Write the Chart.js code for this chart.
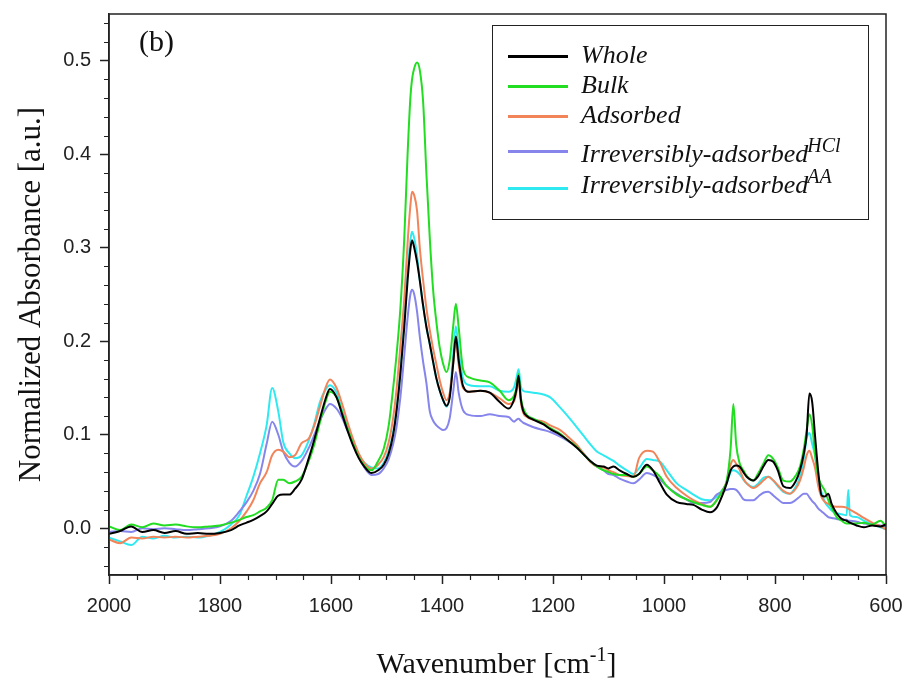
<!DOCTYPE html>
<html>
<head>
<meta charset="utf-8">
<script src="https://cdn.jsdelivr.net/npm/chart.js@4/dist/chart.umd.min.js"></script>
<style>
  html, body { margin: 0; padding: 0; background: #fff; }
  #wrap { position: relative; width: 905px; height: 684px; }
  canvas { position: absolute; left: 0; top: 0; }
  .serif { font-family: "Liberation Serif", "Times New Roman", serif; color: #111; position: absolute; white-space: nowrap; }
  #panel { left: 139px; top: 26px; font-size: 30px; line-height: 30px; }
  #xtitle { left: 0; width: 993px; text-align: center; top: 648px; font-size: 30px; line-height: 30px; }
  #xtitle .sup { font-size: 20px; position: relative; top: -12px; }
  #legend { position: absolute; left: 492px; top: 25px; width: 375px; height: 193px; border: 1.5px solid #222; }
  #legend .swatch { position: absolute; left: 15px; width: 60px; height: 3px; }
  #legend .lab { position: absolute; left: 88px; font-size: 26px; line-height: 26px; font-style: italic; }
  #legend .lab .sup { font-size: 20px; position: relative; top: -10px; margin-left: -1px; }
</style>
</head>
<body>
<div id="wrap">
  <canvas id="chart" width="905" height="684"></canvas>
  <div id="panel" class="serif">(b)</div>
  <div id="xtitle" class="serif">Wavenumber [cm<span class="sup">-1</span>]</div>
  <div id="legend"></div>
</div>
<script>
// Wavenumber grid [cm-1]
const wavenumbers = [
  2000,1980,1960,1940,1920,1900,1880,1860,1840,1820,
  1800,1780,1765,1752,1740,1728,1716,1706,1695,1686,
  1675,1665,1653,1640,1630,1620,1610,1602,1590,1580,
  1570,1560,1550,1540,1527,1515,1505,1496,1488,1482,
  1475,1468,1462,1457,1454,1450,1445,1440,1434,1428,
  1422,1416,1410,1404,1398,1392,1386,1380,1375,1370,
  1362,1350,1331,1314,1296,1280,1270,1266,1262,1258,
  1254,1247,1235,1217,1205,1187,1175,1157,1145,1133,
  1121,1109,1100,1091,1080,1067,1055,1045,1031,1020,
  1007,995,977,960,947,932,917,905,895,887,
  880,875,870,864,857,851,839,830,821,812,
  803,795,785,773,763,755,748,743,738,733,
  728,722,716,710,704,698,689,680,671,668,
  665,653,640,625,610,600
];

const whole = [
  -0.006,-0.003,0.002,-0.004,-0.002,-0.005,-0.003,-0.006,-0.005,-0.006,
  -0.005,-0.002,0.003,0.006,0.009,0.013,0.018,0.026,0.035,0.036,
  0.036,0.042,0.052,0.075,0.095,0.117,0.138,0.149,0.140,0.122,
  0.104,0.088,0.075,0.066,0.059,0.062,0.068,0.080,0.100,0.125,
  0.165,0.215,0.265,0.298,0.308,0.300,0.285,0.265,0.238,0.215,
  0.197,0.178,0.160,0.147,0.137,0.131,0.140,0.175,0.205,0.180,
  0.152,0.146,0.147,0.145,0.135,0.128,0.138,0.148,0.163,0.138,
  0.126,0.120,0.116,0.111,0.106,0.100,0.095,0.086,0.079,0.072,
  0.067,0.066,0.064,0.066,0.062,0.058,0.055,0.058,0.068,0.062,
  0.048,0.036,0.028,0.026,0.025,0.020,0.017,0.022,0.035,0.048,
  0.062,0.066,0.067,0.066,0.060,0.055,0.051,0.056,0.066,0.073,
  0.071,0.062,0.045,0.043,0.050,0.062,0.080,0.100,0.144,0.135,
  0.100,0.060,0.035,0.034,0.037,0.026,0.016,0.010,0.008,0.007,
  0.006,0.003,0.001,0.003,0.002,0.004
];

const bulk = [
  0.002,-0.002,0.004,0.001,0.005,0.003,0.004,0.002,0.001,0.002,
  0.003,0.006,0.009,0.012,0.014,0.018,0.022,0.030,0.052,0.052,
  0.048,0.050,0.055,0.072,0.090,0.113,0.135,0.146,0.140,0.124,
  0.106,0.090,0.076,0.067,0.062,0.072,0.085,0.110,0.150,0.185,
  0.235,0.310,0.400,0.460,0.480,0.492,0.498,0.490,0.456,0.378,
  0.310,0.255,0.220,0.193,0.176,0.167,0.180,0.215,0.240,0.215,
  0.170,0.161,0.158,0.156,0.147,0.137,0.142,0.150,0.165,0.140,
  0.129,0.121,0.117,0.112,0.107,0.101,0.095,0.087,0.079,0.072,
  0.066,0.062,0.060,0.058,0.057,0.057,0.055,0.058,0.066,0.062,
  0.055,0.045,0.036,0.031,0.028,0.025,0.023,0.030,0.040,0.051,
  0.085,0.133,0.090,0.070,0.062,0.056,0.051,0.059,0.069,0.078,
  0.074,0.065,0.051,0.050,0.056,0.066,0.085,0.105,0.122,0.110,
  0.080,0.055,0.046,0.040,0.030,0.022,0.012,0.008,0.005,0.005,
  0.005,0.005,0.006,0.004,0.008,0.002
];

const adsorbed = [
  -0.012,-0.016,-0.010,-0.011,-0.009,-0.010,-0.009,-0.010,-0.009,-0.008,
  -0.006,0.000,0.008,0.018,0.030,0.048,0.060,0.078,0.084,0.082,
  0.076,0.078,0.091,0.096,0.110,0.130,0.150,0.159,0.150,0.133,
  0.113,0.095,0.080,0.070,0.064,0.068,0.076,0.092,0.118,0.148,
  0.195,0.245,0.305,0.345,0.360,0.356,0.340,0.300,0.265,0.235,
  0.212,0.192,0.175,0.158,0.145,0.137,0.145,0.175,0.200,0.175,
  0.150,0.146,0.147,0.145,0.139,0.133,0.136,0.145,0.158,0.135,
  0.124,0.119,0.116,0.114,0.110,0.105,0.099,0.089,0.080,0.071,
  0.066,0.065,0.062,0.060,0.057,0.056,0.055,0.075,0.083,0.082,
  0.070,0.055,0.043,0.035,0.030,0.026,0.023,0.030,0.040,0.050,
  0.068,0.073,0.069,0.063,0.053,0.048,0.043,0.046,0.051,0.055,
  0.051,0.046,0.040,0.037,0.042,0.051,0.065,0.078,0.083,0.075,
  0.065,0.045,0.033,0.028,0.026,0.024,0.023,0.023,0.022,0.021,
  0.020,0.016,0.011,0.006,0.002,-0.001
];

const irrevHCl = [
  -0.004,-0.003,-0.004,0.000,-0.001,0.000,-0.001,-0.002,-0.001,0.000,
  0.002,0.008,0.018,0.028,0.040,0.058,0.090,0.114,0.100,0.082,
  0.070,0.066,0.072,0.086,0.100,0.115,0.127,0.133,0.128,0.118,
  0.104,0.092,0.076,0.065,0.057,0.058,0.064,0.074,0.090,0.108,
  0.140,0.185,0.225,0.250,0.255,0.250,0.232,0.205,0.178,0.155,
  0.125,0.115,0.110,0.107,0.105,0.107,0.118,0.145,0.167,0.145,
  0.126,0.121,0.120,0.122,0.120,0.119,0.114,0.116,0.117,0.115,
  0.113,0.111,0.108,0.105,0.103,0.098,0.094,0.087,0.080,0.072,
  0.066,0.062,0.058,0.057,0.053,0.050,0.048,0.052,0.059,0.057,
  0.052,0.045,0.037,0.031,0.027,0.027,0.028,0.036,0.039,0.041,
  0.042,0.042,0.041,0.037,0.031,0.030,0.030,0.034,0.038,0.039,
  0.035,0.031,0.027,0.027,0.030,0.034,0.037,0.037,0.033,0.029,
  0.026,0.021,0.018,0.015,0.012,0.011,0.010,0.009,0.009,0.008,
  0.008,0.007,0.005,0.004,0.003,0.002
];

const irrevAA = [
  -0.010,-0.014,-0.018,-0.009,-0.011,-0.008,-0.010,-0.009,-0.010,-0.008,
  -0.004,0.004,0.014,0.035,0.055,0.080,0.110,0.150,0.125,0.092,
  0.080,0.075,0.078,0.094,0.112,0.135,0.148,0.153,0.145,0.126,
  0.108,0.092,0.078,0.070,0.065,0.064,0.070,0.083,0.103,0.128,
  0.170,0.225,0.275,0.308,0.317,0.310,0.292,0.265,0.238,0.215,
  0.197,0.178,0.160,0.147,0.137,0.130,0.143,0.185,0.216,0.190,
  0.160,0.153,0.152,0.152,0.147,0.146,0.151,0.160,0.170,0.152,
  0.147,0.146,0.145,0.143,0.140,0.129,0.121,0.108,0.099,0.090,
  0.082,0.078,0.075,0.072,0.067,0.062,0.058,0.064,0.074,0.073,
  0.071,0.062,0.048,0.041,0.036,0.031,0.030,0.034,0.041,0.048,
  0.060,0.062,0.061,0.058,0.052,0.048,0.044,0.048,0.054,0.055,
  0.051,0.045,0.039,0.037,0.044,0.055,0.075,0.096,0.102,0.090,
  0.078,0.052,0.038,0.028,0.023,0.019,0.016,0.015,0.014,0.041,
  0.014,0.012,0.008,0.004,0.001,-0.001
];

// Axis ticks
const xMajorTicks = [2000, 1800, 1600, 1400, 1200, 1000, 800, 600];
const yMajorTicks = [0.0, 0.1, 0.2, 0.3, 0.4, 0.5];
const xMinorStep = 50;
const yMinorStep = 0.02;

const seriesList = [
  { label: 'Whole',        sup: '',    values: whole,    color: '#000000' },
  { label: 'Bulk',         sup: '',    values: bulk,     color: '#22dd22' },
  { label: 'Adsorbed',     sup: '',    values: adsorbed, color: '#f2845a' },
  { label: 'Irreversibly-adsorbed', sup: 'HCl', values: irrevHCl, color: '#8585ec' },
  { label: 'Irreversibly-adsorbed', sup: 'AA',  values: irrevAA,  color: '#2eeaf0' }
];

const X_MIN = 600, X_MAX = 2000, Y_MIN = -0.05, Y_MAX = 0.55;

const xMinorTicks = [];
for (let v = X_MIN; v <= X_MAX; v += xMinorStep) if (!xMajorTicks.includes(v)) xMinorTicks.push(v);
const yMinorTicks = [];
for (let k = Math.ceil(Y_MIN / yMinorStep); k * yMinorStep <= Y_MAX + 1e-9; k++) {
  const v = +(k * yMinorStep).toFixed(2);
  if (!yMajorTicks.some(m => Math.abs(m - v) < 1e-9)) yMinorTicks.push(v);
}

// Closed frame around the plot area plus short minor ticks
const frameAndMinorTicks = {
  id: 'frameAndMinorTicks',
  afterDraw(chart) {
    const { ctx, chartArea: a, scales: { x, y } } = chart;
    ctx.save();
    ctx.strokeStyle = '#222';
    ctx.lineWidth = 1.5;
    ctx.strokeRect(a.left, a.top, a.right - a.left, a.bottom - a.top);
    ctx.lineWidth = 1.2;
    ctx.beginPath();
    xMinorTicks.forEach(v => {
      const px = Math.round(x.getPixelForValue(v)) + 0.5;
      ctx.moveTo(px, a.bottom); ctx.lineTo(px, a.bottom + 5);
    });
    yMinorTicks.forEach(v => {
      const py = Math.round(y.getPixelForValue(v)) + 0.5;
      ctx.moveTo(a.left, py); ctx.lineTo(a.left - 5, py);
    });
    ctx.stroke();
    ctx.restore();
  }
};

const datasets = seriesList.map(s => ({
  label: s.sup ? s.label + ' ' + s.sup : s.label,
  data: wavenumbers.map((w, i) => ({ x: w, y: s.values[i] })),
  borderColor: s.color,
  backgroundColor: s.color,
  borderWidth: 2,
  pointRadius: 0,
  fill: false,
  cubicInterpolationMode: 'monotone'
}));

new Chart(document.getElementById('chart'), {
  type: 'line',
  data: { datasets },
  plugins: [frameAndMinorTicks],
  options: {
    responsive: false,
    animation: false,
    devicePixelRatio: 1,
    layout: { padding: { top: 14, right: 19, bottom: 0, left: 0 } },
    plugins: { legend: { display: false }, tooltip: { enabled: false } },
    scales: {
      x: {
        type: 'linear',
        reverse: true,
        min: X_MIN,
        max: X_MAX,
        afterBuildTicks: s => { s.ticks = xMajorTicks.map(v => ({ value: v })); },
        afterFit: s => { s.height = 109; s.paddingLeft = 0; s.paddingRight = 0; },
        ticks: {
          autoSkip: false, maxRotation: 0, minRotation: 0, padding: 10,
          color: '#222',
          font: { family: '"Liberation Sans", Arial, sans-serif', size: 20 },
          callback: v => String(v)
        },
        grid: { drawOnChartArea: false, drawTicks: true, tickLength: 9, tickWidth: 1.5, tickColor: '#222', color: '#222' },
        border: { display: true, color: '#222', width: 1.5 }
      },
      y: {
        type: 'linear',
        min: Y_MIN,
        max: Y_MAX,
        afterBuildTicks: s => { s.ticks = yMajorTicks.map(v => ({ value: v })); },
        afterFit: s => { s.width = 109; s.paddingTop = 0; s.paddingBottom = 0; },
        ticks: {
          autoSkip: false, padding: 9,
          color: '#222',
          font: { family: '"Liberation Sans", Arial, sans-serif', size: 20 },
          callback: v => Number(v).toFixed(1)
        },
        grid: { drawOnChartArea: false, drawTicks: true, tickLength: 9, tickWidth: 1.5, tickColor: '#222', color: '#222' },
        border: { display: true, color: '#222', width: 1.5 },
        title: {
          display: true,
          text: 'Normalized Absorbance [a.u.]',
          color: '#111',
          font: { family: '"Liberation Serif", "Times New Roman", serif', size: 31 },
          padding: { top: 13, bottom: 0 }
        }
      }
    }
  }
});

// Legend box with line swatches and italic labels
const legendRows = [
  { lineY: 30, textTop: 16 },
  { lineY: 60, textTop: 46 },
  { lineY: 90, textTop: 76 },
  { lineY: 125, textTop: 115 },
  { lineY: 162, textTop: 146 }
];
const legendEl = document.getElementById('legend');
seriesList.forEach((s, i) => {
  const sw = document.createElement('div');
  sw.className = 'swatch';
  sw.style.top = (legendRows[i].lineY - 1.5) + 'px';
  sw.style.background = s.color;
  legendEl.appendChild(sw);
  const lab = document.createElement('div');
  lab.className = 'lab serif';
  lab.style.top = legendRows[i].textTop + 'px';
  lab.textContent = s.label;
  if (s.sup) {
    const sp = document.createElement('span');
    sp.className = 'sup';
    sp.textContent = s.sup;
    lab.appendChild(sp);
  }
  legendEl.appendChild(lab);
});
</script>
</body>
</html>
